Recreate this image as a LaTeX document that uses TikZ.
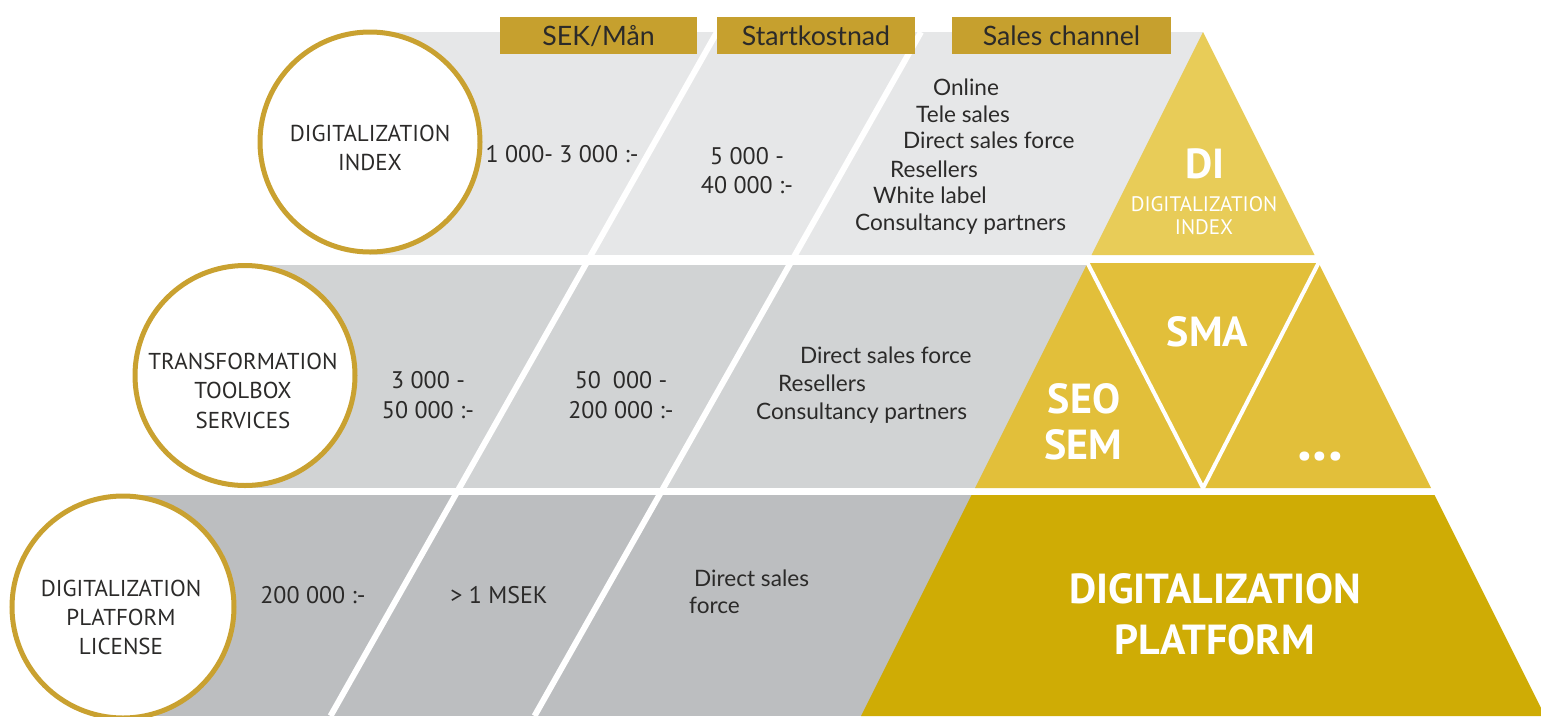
\documentclass[tikz,border=0pt]{standalone}
\usepackage{fontspec}
\setmainfont{Lato}
\newfontfamily\ptf{PT Sans}
\newfontfamily\latof{Lato}
\definecolor{txt}{HTML}{2B2A29}
\definecolor{hdrgold}{HTML}{C6A02E}
\definecolor{ringgold}{HTML}{C9A130}
\definecolor{bandA}{HTML}{E6E7E8}
\definecolor{bandB}{HTML}{D1D3D4}
\definecolor{bandC}{HTML}{BCBEC0}
\definecolor{tierA}{HTML}{E8CC58}
\definecolor{tierB}{HTML}{E2BF3A}
\definecolor{tierC}{HTML}{CFAC05}
\tikzset{
  sepline/.style={white, line width=6pt},
  tierline/.style={white, line width=4pt},
  ring/.style={circle, draw=ringgold, line width=5pt, fill=white, inner sep=0pt},
  hdr/.style={fill=hdrgold, minimum height=37pt, inner sep=0pt, text=txt,
    font=\latof\fontsize{26.7}{30}\selectfont, text height=19pt, text depth=0pt},
  ctext/.style={anchor=base, inner sep=0pt, text=txt, font=\ptf\fontsize{23}{29}\selectfont},
  numtext/.style={anchor=base, inner sep=0pt, text=txt, font=\ptf\fontsize{24}{29}\selectfont},
  lst/.style={anchor=base west, inner sep=0pt, text=txt, font=\latof\fontsize{22.6}{27}\selectfont},
  pbig/.style={anchor=base, inner sep=0pt, text=white, font=\ptf\bfseries\fontsize{42}{48}\selectfont},
  pdots/.style={anchor=base, inner sep=0pt, text=white, font=\ptf\bfseries\fontsize{60}{60}\selectfont},
  psmall/.style={anchor=base, inner sep=0pt, text=white, font=\ptf\fontsize{21}{24}\selectfont},
}
\begin{document}
\begin{tikzpicture}[x=1pt, y=-1pt]
\useasboundingbox (0,0) rectangle (1541,716);
% bands
\fill[bandA] (370,32) rectangle (1203,255);
\fill[bandB] (245,265) rectangle (1203,488);
\fill[bandC] (123,495) rectangle (1203,716);
% separators
\draw[sepline] (717,32) -- (330.5,716);
\draw[sepline] (921,32) -- (534.5,716);
% pyramid
\fill[tierA] (1203,32) -- (1091.5,255) -- (1314.5,255) -- cycle;
\fill[tierB] (1087.5,263) -- (975,488) -- (1431,488) -- (1318.5,263) -- cycle;
\fill[tierC] (971.5,495) -- (861,716) -- (1545,716) -- (1434.5,495) -- cycle;
\draw[tierline] (1087.5,263) -- (1203,488) -- (1318.5,263);
% circles
\node[ring, minimum size=220pt] (c1) at (370,142) {};
\node[ring, minimum size=220pt] (c2) at (245,375.5) {};
\node[ring, minimum size=222pt] (c3) at (123,607) {};
% headers
\node[hdr, minimum width=197pt] (h1) at (598.5,35.5) {SEK/Mån};
\node[hdr, minimum width=198pt] (h2) at (816,35.5) {Startkostnad};
\node[hdr, minimum width=219pt] (h3) at (1061.5,35.5) {Sales channel};
% circle texts
\node[ctext] (c1a) at (370,141) {DIGITALIZATION};
\node[ctext] (c1b) at (370,170) {INDEX};
\node[ctext] (c2a) at (243,369) {TRANSFORMATION};
\node[ctext] (c2b) at (243,398) {TOOLBOX};
\node[ctext] (c2c) at (243,428) {SERVICES};
\node[ctext] (c3a) at (121,596) {DIGITALIZATION};
\node[ctext] (c3b) at (121,625) {PLATFORM};
\node[ctext] (c3c) at (121,654) {LICENSE};
% numbers
\node[numtext] (n1) at (562,162) {1 000- 3 000 :-};
\node[numtext] (n2a) at (747,164) {5 000 -};
\node[numtext] (n2b) at (747,193) {40 000 :-};
\node[numtext] (n3a) at (428,388) {3 000 -};
\node[numtext] (n3b) at (428,418) {50 000 :-};
\node[numtext] (n4a) at (621,388) {50\enspace000 -};
\node[numtext] (n4b) at (621,418) {200 000 :-};
\node[numtext] (n5) at (313,603) {200 000 :-};
\node[numtext] (n6) at (499,603) {> 1 MSEK};
% sales channel lists
\node[lst] (s1) at (933,95) {Online};
\node[lst] (s2) at (916,122) {Tele sales};
\node[lst] (s3) at (903,148) {Direct sales force};
\node[lst] (s4) at (890,177) {Resellers};
\node[lst] (s5) at (873,203) {White label};
\node[lst] (s6) at (855,230) {Consultancy partners};
\node[lst] (m1) at (800,363) {Direct sales force};
\node[lst] (m2) at (778,391) {Resellers};
\node[lst] (m3) at (756,419) {Consultancy partners};
\node[lst] (b1) at (694,586) {Direct sales};
\node[lst] (b2) at (689,613) {force};
% pyramid texts
\node[pbig] (p1) at (1205,178) {DI};
\node[psmall] (p1a) at (1204,211) {DIGITALIZATION};
\node[psmall] (p1b) at (1204,234) {INDEX};
\node[pbig] (p2) at (1207.5,346) {SMA};
\node[pbig] (p3a) at (1084,413) {SEO};
\node[pbig] (p3b) at (1083,459) {SEM};
\node[pdots] (p4) at (1320,460) {...};
\node[pbig] (p5a) at (1215,603) {DIGITALIZATION};
\node[pbig] (p5b) at (1214.5,654) {PLATFORM};
\end{tikzpicture}
\end{document}
